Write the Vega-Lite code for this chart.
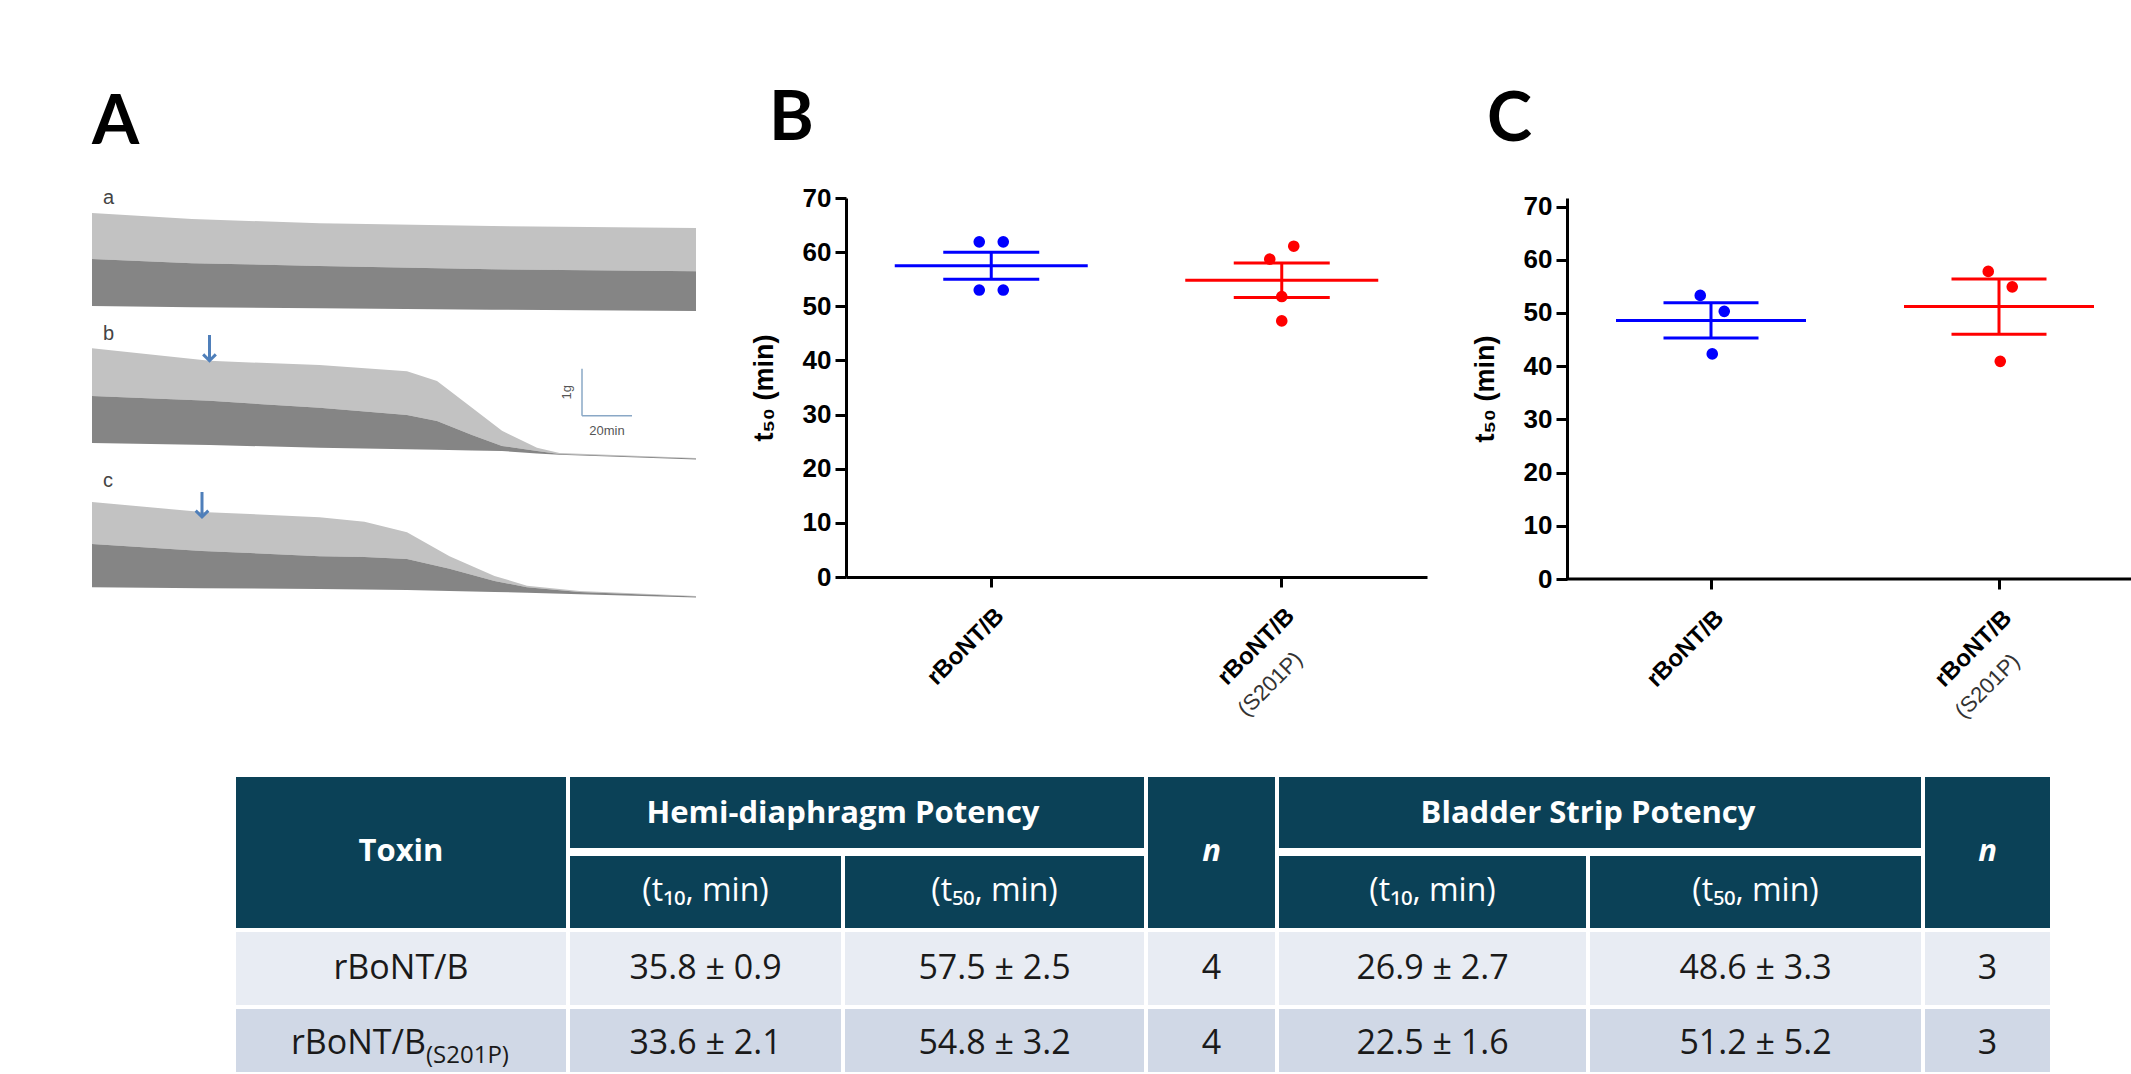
{
  "$schema": "https://vega.github.io/schema/vega-lite/v6.json",
  "background": "white",
  "padding": {"left": 92, "top": 86, "right": 0, "bottom": 0},
  "config": {"view": {"stroke": null}, "font": "Liberation Sans"},
  "datasets": {
    "traces": [
      {"tr": "a", "t": 0, "top": 2.13, "mid": 1.15, "base": 0.15},
      {"tr": "a", "t": 40, "top": 2.0, "mid": 1.06, "base": 0.12},
      {"tr": "a", "t": 91, "top": 1.91, "mid": 1.0, "base": 0.1},
      {"tr": "a", "t": 160, "top": 1.85, "mid": 0.93, "base": 0.07},
      {"tr": "a", "t": 241.6, "top": 1.81, "mid": 0.89, "base": 0.04},
      {"tr": "b", "t": 0, "top": 2.38, "mid": 1.36, "base": 0.36},
      {"tr": "b", "t": 47, "top": 2.11, "mid": 1.26, "base": 0.32},
      {"tr": "b", "t": 91, "top": 2.02, "mid": 1.11, "base": 0.26},
      {"tr": "b", "t": 126, "top": 1.89, "mid": 0.96, "base": 0.23},
      {"tr": "b", "t": 138, "top": 1.68, "mid": 0.83, "base": 0.22},
      {"tr": "b", "t": 152, "top": 1.11, "mid": 0.53, "base": 0.2},
      {"tr": "b", "t": 164, "top": 0.62, "mid": 0.3, "base": 0.19},
      {"tr": "b", "t": 178, "top": 0.26, "mid": 0.19, "base": 0.14},
      {"tr": "b", "t": 187, "top": 0.15, "mid": 0.13, "base": 0.11},
      {"tr": "b", "t": 241.6, "top": 0.04, "mid": 0.03, "base": 0.01},
      {"tr": "c", "t": 0, "top": 2.04, "mid": 1.15, "base": 0.23},
      {"tr": "c", "t": 44, "top": 1.83, "mid": 1.0, "base": 0.21},
      {"tr": "c", "t": 91, "top": 1.72, "mid": 0.89, "base": 0.19},
      {"tr": "c", "t": 109, "top": 1.62, "mid": 0.87, "base": 0.18},
      {"tr": "c", "t": 126, "top": 1.4, "mid": 0.83, "base": 0.17},
      {"tr": "c", "t": 143, "top": 0.89, "mid": 0.62, "base": 0.15},
      {"tr": "c", "t": 161, "top": 0.47, "mid": 0.36, "base": 0.13},
      {"tr": "c", "t": 174, "top": 0.26, "mid": 0.23, "base": 0.11},
      {"tr": "c", "t": 195, "top": 0.15, "mid": 0.13, "base": 0.08},
      {"tr": "c", "t": 241.6, "top": 0.04, "mid": 0.03, "base": 0.01}
    ],
    "arrows": [
      {"tr": "b", "t": 47, "tip": 2.13, "tail": 2.66},
      {"tr": "c", "t": 44, "tip": 1.74, "tail": 2.255}
    ],
    "sbar": [
      {"t": 196, "t2": 196, "g": 0.94, "g2": 1.94},
      {"t": 196, "t2": 216, "g": 0.94, "g2": 0.94}
    ],
    "sbarText": [
      {"t": 190, "g": 1.44, "s": "1g", "rot": "y"},
      {"t": 206, "g": 0.62, "s": "20min", "rot": "n"}
    ],
    "hemi": [
      {"grp": "wt", "slot": "L", "v": 61.9},
      {"grp": "wt", "slot": "R", "v": 61.9},
      {"grp": "wt", "slot": "L", "v": 53.0},
      {"grp": "wt", "slot": "R", "v": 53.0},
      {"grp": "mut", "slot": "L", "v": 58.7},
      {"grp": "mut", "slot": "R", "v": 61.1},
      {"grp": "mut", "slot": "C", "v": 51.8},
      {"grp": "mut", "slot": "C", "v": 47.3}
    ],
    "hemiSum": [
      {"grp": "wt", "mean": 57.5, "lo": 55.0, "hi": 60.0},
      {"grp": "mut", "mean": 54.8, "lo": 51.6, "hi": 58.0}
    ],
    "blad": [
      {"grp": "wt", "slot": "L", "v": 53.3},
      {"grp": "wt", "slot": "R", "v": 50.3},
      {"grp": "wt", "slot": "C", "v": 42.3},
      {"grp": "mut", "slot": "L", "v": 57.8},
      {"grp": "mut", "slot": "R", "v": 54.9},
      {"grp": "mut", "slot": "C", "v": 40.9}
    ],
    "bladSum": [
      {"grp": "wt", "mean": 48.6, "lo": 45.3, "hi": 51.9},
      {"grp": "mut", "mean": 51.2, "lo": 46.0, "hi": 56.4}
    ],
    "cells": [
      {"c0": 0, "c1": 1, "r0": 0, "r1": 2, "k": "h"},
      {"c0": 1, "c1": 3, "r0": 0, "r1": 1, "k": "h"},
      {"c0": 3, "c1": 4, "r0": 0, "r1": 2, "k": "h"},
      {"c0": 4, "c1": 6, "r0": 0, "r1": 1, "k": "h"},
      {"c0": 6, "c1": 7, "r0": 0, "r1": 2, "k": "h"},
      {"c0": 1, "c1": 2, "r0": 1, "r1": 2, "k": "h"},
      {"c0": 2, "c1": 3, "r0": 1, "r1": 2, "k": "h"},
      {"c0": 4, "c1": 5, "r0": 1, "r1": 2, "k": "h"},
      {"c0": 5, "c1": 6, "r0": 1, "r1": 2, "k": "h"},
      {"c0": 0, "c1": 1, "r0": 2, "r1": 3, "k": "r1"},
      {"c0": 1, "c1": 2, "r0": 2, "r1": 3, "k": "r1"},
      {"c0": 2, "c1": 3, "r0": 2, "r1": 3, "k": "r1"},
      {"c0": 3, "c1": 4, "r0": 2, "r1": 3, "k": "r1"},
      {"c0": 4, "c1": 5, "r0": 2, "r1": 3, "k": "r1"},
      {"c0": 5, "c1": 6, "r0": 2, "r1": 3, "k": "r1"},
      {"c0": 6, "c1": 7, "r0": 2, "r1": 3, "k": "r1"},
      {"c0": 0, "c1": 1, "r0": 3, "r1": 4, "k": "r2"},
      {"c0": 1, "c1": 2, "r0": 3, "r1": 4, "k": "r2"},
      {"c0": 2, "c1": 3, "r0": 3, "r1": 4, "k": "r2"},
      {"c0": 3, "c1": 4, "r0": 3, "r1": 4, "k": "r2"},
      {"c0": 4, "c1": 5, "r0": 3, "r1": 4, "k": "r2"},
      {"c0": 5, "c1": 6, "r0": 3, "r1": 4, "k": "r2"},
      {"c0": 6, "c1": 7, "r0": 3, "r1": 4, "k": "r2"}
    ],
    "hsep": [
      {"c0": 1, "c1": 3, "r": 1},
      {"c0": 4, "c1": 6, "r": 1}
    ],
    "texts": [
      {"ty": "hb", "cx": 0.5, "cy": 1, "s": "Toxin"},
      {"ty": "hb", "cx": 2, "cy": 0.5, "s": "Hemi-diaphragm Potency"},
      {"ty": "hb", "cx": 5, "cy": 0.5, "s": "Bladder Strip Potency"},
      {"ty": "hi", "cx": 3.5, "cy": 1, "s": "n"},
      {"ty": "hi", "cx": 6.5, "cy": 1, "s": "n"},
      {"ty": "hs", "cx": 1.5, "cy": 1.5, "s": "(t₁₀, min)"},
      {"ty": "hs", "cx": 2.5, "cy": 1.5, "s": "(t₅₀, min)"},
      {"ty": "hs", "cx": 4.5, "cy": 1.5, "s": "(t₁₀, min)"},
      {"ty": "hs", "cx": 5.5, "cy": 1.5, "s": "(t₅₀, min)"},
      {"ty": "b", "cx": 0.5, "cy": 2.5, "s": "rBoNT/B"},
      {"ty": "b", "cx": 1.5, "cy": 2.5, "s": "35.8 ± 0.9"},
      {"ty": "b", "cx": 2.5, "cy": 2.5, "s": "57.5 ± 2.5"},
      {"ty": "b", "cx": 3.5, "cy": 2.5, "s": "4"},
      {"ty": "b", "cx": 4.5, "cy": 2.5, "s": "26.9 ± 2.7"},
      {"ty": "b", "cx": 5.5, "cy": 2.5, "s": "48.6 ± 3.3"},
      {"ty": "b", "cx": 6.5, "cy": 2.5, "s": "3"},
      {"ty": "bm", "cx": 0.5, "cy": 3.5, "s": "rBoNT/B"},
      {"ty": "bs", "cx": 0.5, "cy": 3.5, "s": "(S201P)"},
      {"ty": "b", "cx": 1.5, "cy": 3.5, "s": "33.6 ± 2.1"},
      {"ty": "b", "cx": 2.5, "cy": 3.5, "s": "54.8 ± 3.2"},
      {"ty": "b", "cx": 3.5, "cy": 3.5, "s": "4"},
      {"ty": "b", "cx": 4.5, "cy": 3.5, "s": "22.5 ± 1.6"},
      {"ty": "b", "cx": 5.5, "cy": 3.5, "s": "51.2 ± 5.2"},
      {"ty": "b", "cx": 6.5, "cy": 3.5, "s": "3"}
    ]
  },
  "spacing": 53,
  "vconcat": [
    {
      "spacing": 44,
      "hconcat": [
        {
          "title": {"text": "A", "anchor": "start", "font": "Lato", "fontSize": 68, "fontWeight": "bold", "color": "black", "offset": 30},
          "spacing": 10,
          "vconcat": [
            {
              "title": {"text": "a", "anchor": "start", "dx": 11, "fontSize": 20, "fontWeight": "normal", "color": "#444", "offset": -10},
              "width": 614, "height": 115,
              "data": {"name": "traces"},
              "transform": [{"filter": "datum.tr == 'a'"}],
              "layer": [
                {"mark": {"type": "area", "color": "#c2c2c2"},
                 "encoding": {
                   "x": {"field": "t", "type": "quantitative", "scale": {"domain": [0, 245.6], "nice": false}, "axis": null},
                   "y": {"field": "top", "type": "quantitative", "scale": {"domain": [0, 2.447], "nice": false}, "axis": null},
                   "y2": {"field": "mid"}}},
                {"mark": {"type": "area", "color": "#858585"},
                 "encoding": {
                   "x": {"field": "t", "type": "quantitative"},
                   "y": {"field": "mid", "type": "quantitative"},
                   "y2": {"field": "base"}}}
              ]
            },
            {
              "title": {"text": "b", "anchor": "start", "dx": 11, "fontSize": 20, "fontWeight": "normal", "color": "#444", "offset": -10},
              "width": 614, "height": 125,
              "layer": [
                {"data": {"name": "traces"}, "transform": [{"filter": "datum.tr == 'b'"}],
                 "mark": {"type": "area", "color": "#c2c2c2"},
                 "encoding": {
                   "x": {"field": "t", "type": "quantitative", "scale": {"domain": [0, 245.6], "nice": false}, "axis": null},
                   "y": {"field": "top", "type": "quantitative", "scale": {"domain": [0, 2.66], "nice": false}, "axis": null},
                   "y2": {"field": "mid"}}},
                {"data": {"name": "traces"}, "transform": [{"filter": "datum.tr == 'b'"}],
                 "mark": {"type": "area", "color": "#858585"},
                 "encoding": {
                   "x": {"field": "t", "type": "quantitative"},
                   "y": {"field": "mid", "type": "quantitative"},
                   "y2": {"field": "base"}}},
                {"data": {"name": "arrows"}, "transform": [{"filter": "datum.tr == 'b'"}],
                 "mark": {"type": "rule", "color": "#4f7fba", "strokeWidth": 3},
                 "encoding": {"x": {"field": "t", "type": "quantitative"}, "y": {"field": "tail", "type": "quantitative"}, "y2": {"field": "tip"}}},
                {"data": {"name": "arrows"}, "transform": [{"filter": "datum.tr == 'b'"}],
                 "mark": {"type": "point", "shape": "M -0.8 -0.7 L 0 0.1 L 0.8 -0.7", "filled": false, "color": "#4f7fba", "strokeWidth": 3, "size": 250, "opacity": 1},
                 "encoding": {"x": {"field": "t", "type": "quantitative"}, "y": {"field": "tip", "type": "quantitative"}}},
                {"data": {"name": "sbar"},
                 "mark": {"type": "rule", "color": "#8aa8c6", "strokeWidth": 1.5},
                 "encoding": {"x": {"field": "t", "type": "quantitative"}, "x2": {"field": "t2"}, "y": {"field": "g", "type": "quantitative"}, "y2": {"field": "g2"}}},
                {"data": {"name": "sbarText"}, "transform": [{"filter": "datum.rot == 'y'"}],
                 "mark": {"type": "text", "angle": 270, "fontSize": 13, "color": "#555"},
                 "encoding": {"x": {"field": "t", "type": "quantitative"}, "y": {"field": "g", "type": "quantitative"}, "text": {"field": "s"}}},
                {"data": {"name": "sbarText"}, "transform": [{"filter": "datum.rot == 'n'"}],
                 "mark": {"type": "text", "fontSize": 13, "color": "#555"},
                 "encoding": {"x": {"field": "t", "type": "quantitative"}, "y": {"field": "g", "type": "quantitative"}, "text": {"field": "s"}}}
              ]
            },
            {
              "title": {"text": "c", "anchor": "start", "dx": 11, "fontSize": 20, "fontWeight": "normal", "color": "#444", "offset": 0},
              "width": 614, "height": 106,
              "layer": [
                {"data": {"name": "traces"}, "transform": [{"filter": "datum.tr == 'c'"}],
                 "mark": {"type": "area", "color": "#c2c2c2"},
                 "encoding": {
                   "x": {"field": "t", "type": "quantitative", "scale": {"domain": [0, 245.6], "nice": false}, "axis": null},
                   "y": {"field": "top", "type": "quantitative", "scale": {"domain": [0, 2.255], "nice": false}, "axis": null},
                   "y2": {"field": "mid"}}},
                {"data": {"name": "traces"}, "transform": [{"filter": "datum.tr == 'c'"}],
                 "mark": {"type": "area", "color": "#858585"},
                 "encoding": {
                   "x": {"field": "t", "type": "quantitative"},
                   "y": {"field": "mid", "type": "quantitative"},
                   "y2": {"field": "base"}}},
                {"data": {"name": "arrows"}, "transform": [{"filter": "datum.tr == 'c'"}],
                 "mark": {"type": "rule", "color": "#4f7fba", "strokeWidth": 3},
                 "encoding": {"x": {"field": "t", "type": "quantitative"}, "y": {"field": "tail", "type": "quantitative"}, "y2": {"field": "tip"}}},
                {"data": {"name": "arrows"}, "transform": [{"filter": "datum.tr == 'c'"}],
                 "mark": {"type": "point", "shape": "M -0.8 -0.7 L 0 0.1 L 0.8 -0.7", "filled": false, "color": "#4f7fba", "strokeWidth": 3, "size": 250, "opacity": 1},
                 "encoding": {"x": {"field": "t", "type": "quantitative"}, "y": {"field": "tip", "type": "quantitative"}}}
              ]
            }
          ]
        },
        {
          "title": {"text": "B", "anchor": "start", "frame": "group", "dx": -77, "font": "Lato", "fontSize": 68, "fontWeight": "bold", "color": "black", "offset": 31},
          "width": 581, "height": 379,
          "resolve": {"axis": {"x": "independent"}},
          "layer": [
            {"data": {"name": "hemiSum"},
             "mark": {"type": "rule", "strokeWidth": 3},
             "encoding": {
               "x": {"field": "grp", "type": "nominal", "sort": null, "scale": {"type": "band", "domain": ["wt", "mut"], "paddingInner": 0, "paddingOuter": 0},
                     "axis": {"title": null, "orient": "bottom", "labelExpr": "'rBoNT/B'", "labelAngle": -45, "labelAlign": "right", "labelBaseline": "middle", "labelFontSize": 24, "labelFontWeight": "bold", "labelColor": "black", "labelPadding": 25, "labelOffset": 9, "domainColor": "black", "domainWidth": 3, "tickColor": "black", "tickWidth": 3, "tickSize": 10, "grid": false}},
               "y": {"field": "lo", "type": "quantitative", "scale": {"domain": [0, 70], "nice": false},
                     "axis": {"title": "t₅₀ (min)", "values": [0, 10, 20, 30, 40, 50, 60, 70], "labelFontSize": 26, "labelFontWeight": "bold", "labelColor": "black", "labelPadding": 4, "titleFontSize": 27, "titleFontWeight": "bold", "titleColor": "black", "titlePadding": 24, "domainColor": "black", "domainWidth": 3, "tickColor": "black", "tickWidth": 3, "tickSize": 11, "grid": false}},
               "y2": {"field": "hi"},
               "color": {"field": "grp", "type": "nominal", "scale": {"domain": ["wt", "mut"], "range": ["#0000ff", "#ff0000"]}, "legend": null}}},
            {"data": {"name": "hemiSum"},
             "mark": {"type": "tick", "size": 193, "thickness": 3, "opacity": 1},
             "encoding": {
               "x": {"field": "grp", "type": "nominal", "sort": null,
                     "axis": {"title": null, "orient": "bottom", "domain": false, "ticks": false, "tickSize": 0, "grid": false, "labelExpr": "datum.value == 'mut' ? '(S201P)' : ''", "labelAngle": -45, "labelAlign": "right", "labelBaseline": "middle", "labelFontSize": 22, "labelFontWeight": "normal", "labelColor": "#333", "labelPadding": 78, "labelOffset": 17}},
               "y": {"field": "mean", "type": "quantitative"},
               "color": {"field": "grp", "type": "nominal", "legend": null}}},
            {"data": {"name": "hemiSum"},
             "mark": {"type": "tick", "size": 96, "thickness": 3, "opacity": 1},
             "encoding": {
               "x": {"field": "grp", "type": "nominal", "sort": null, "axis": null},
               "y": {"field": "lo", "type": "quantitative"},
               "color": {"field": "grp", "type": "nominal", "legend": null}}},
            {"data": {"name": "hemiSum"},
             "mark": {"type": "tick", "size": 96, "thickness": 3, "opacity": 1},
             "encoding": {
               "x": {"field": "grp", "type": "nominal", "sort": null, "axis": null},
               "y": {"field": "hi", "type": "quantitative"},
               "color": {"field": "grp", "type": "nominal", "legend": null}}},
            {"data": {"name": "hemi"},
             "mark": {"type": "circle", "size": 135, "opacity": 1},
             "encoding": {
               "x": {"field": "grp", "type": "nominal", "sort": null, "axis": null},
               "xOffset": {"field": "slot", "type": "nominal", "scale": {"type": "point", "domain": ["L", "C", "R"], "range": [133.25, 157.25], "padding": 0}},
               "y": {"field": "v", "type": "quantitative"},
               "color": {"field": "grp", "type": "nominal", "legend": null}}}
          ]
        },
        {
          "title": {"text": "C", "anchor": "start", "frame": "group", "dx": -80, "font": "Lato", "fontSize": 68, "fontWeight": "bold", "color": "black", "offset": 39},
          "width": 566, "height": 381,
          "resolve": {"axis": {"x": "independent"}},
          "layer": [
            {"data": {"name": "bladSum"},
             "mark": {"type": "rule", "strokeWidth": 3},
             "encoding": {
               "x": {"field": "grp", "type": "nominal", "sort": null, "scale": {"type": "band", "domain": ["wt", "mut"], "paddingInner": 0, "paddingOuter": 0, "range": [0, 576]},
                     "axis": {"title": null, "orient": "bottom", "labelExpr": "'rBoNT/B'", "labelAngle": -45, "labelAlign": "right", "labelBaseline": "middle", "labelFontSize": 24, "labelFontWeight": "bold", "labelColor": "black", "labelPadding": 25, "labelOffset": 9, "domain": false, "tickColor": "black", "tickWidth": 3, "tickSize": 10, "grid": false}},
               "y": {"field": "lo", "type": "quantitative", "scale": {"domain": [0, 71.6], "nice": false},
                     "axis": {"title": "t₅₀ (min)", "values": [0, 10, 20, 30, 40, 50, 60, 70], "labelFontSize": 26, "labelFontWeight": "bold", "labelColor": "black", "labelPadding": 4, "titleFontSize": 27, "titleFontWeight": "bold", "titleColor": "black", "titlePadding": 24, "domainColor": "black", "domainWidth": 3, "tickColor": "black", "tickWidth": 3, "tickSize": 11, "grid": false}},
               "y2": {"field": "hi"},
               "color": {"field": "grp", "type": "nominal", "scale": {"domain": ["wt", "mut"], "range": ["#0000ff", "#ff0000"]}, "legend": null}}},
            {"data": {"name": "bladSum"},
             "mark": {"type": "tick", "size": 190, "thickness": 3, "opacity": 1},
             "encoding": {
               "x": {"field": "grp", "type": "nominal", "sort": null,
                     "axis": {"title": null, "orient": "bottom", "domain": false, "ticks": false, "tickSize": 0, "grid": false, "labelExpr": "datum.value == 'mut' ? '(S201P)' : ''", "labelAngle": -45, "labelAlign": "right", "labelBaseline": "middle", "labelFontSize": 22, "labelFontWeight": "normal", "labelColor": "#333", "labelPadding": 78, "labelOffset": 17}},
               "y": {"field": "mean", "type": "quantitative"},
               "color": {"field": "grp", "type": "nominal", "legend": null}}},
            {"data": {"name": "bladSum"},
             "mark": {"type": "tick", "size": 95, "thickness": 3, "opacity": 1},
             "encoding": {
               "x": {"field": "grp", "type": "nominal", "sort": null, "axis": null},
               "y": {"field": "lo", "type": "quantitative"},
               "color": {"field": "grp", "type": "nominal", "legend": null}}},
            {"data": {"name": "bladSum"},
             "mark": {"type": "tick", "size": 95, "thickness": 3, "opacity": 1},
             "encoding": {
               "x": {"field": "grp", "type": "nominal", "sort": null, "axis": null},
               "y": {"field": "hi", "type": "quantitative"},
               "color": {"field": "grp", "type": "nominal", "legend": null}}},
            {"data": {"name": "blad"},
             "mark": {"type": "circle", "size": 135, "opacity": 1},
             "encoding": {
               "x": {"field": "grp", "type": "nominal", "sort": null, "axis": null},
               "xOffset": {"field": "slot", "type": "nominal", "scale": {"type": "point", "domain": ["L", "C", "R"], "range": [132, 156], "padding": 0}},
               "y": {"field": "v", "type": "quantitative"},
               "color": {"field": "grp", "type": "nominal", "legend": null}}},
            {"data": {"values": [{"z": 0}]},
             "mark": {"type": "rule", "color": "black", "strokeWidth": 3},
             "encoding": {"y": {"field": "z", "type": "quantitative"}}}
          ]
        }
      ]
    },
    {
      "width": 1960, "height": 297,
      "layer": [
        {"data": {"name": "cells"},
         "mark": {"type": "rect", "stroke": "white", "strokeWidth": 4, "clip": true},
         "encoding": {
           "x": {"field": "c0", "type": "quantitative", "scale": {"domain": [0, 1, 2, 3, 4, 5, 6, 7], "range": [142, 476, 751, 1054, 1185, 1496, 1831, 1960], "nice": false, "zero": false}, "axis": null},
           "x2": {"field": "c1"},
           "y": {"field": "r0", "type": "quantitative", "scale": {"domain": [0, 1, 2, 3, 4], "range": [0, 77, 155, 232, 306], "nice": false}, "axis": null},
           "y2": {"field": "r1"},
           "fill": {"field": "k", "type": "nominal", "scale": {"domain": ["h", "r1", "r2"], "range": ["#0b4157", "#e8ecf3", "#d0d8e6"]}, "legend": null}}},
        {"data": {"name": "hsep"},
         "mark": {"type": "rule", "color": "white", "strokeWidth": 8},
         "encoding": {"x": {"field": "c0", "type": "quantitative"}, "x2": {"field": "c1"}, "y": {"field": "r", "type": "quantitative"}}},
        {"data": {"name": "texts"}, "transform": [{"filter": "datum.ty == 'hb'"}],
         "mark": {"type": "text", "font": "Open Sans", "fontSize": 31, "fontWeight": "bold", "color": "white"},
         "encoding": {"x": {"field": "cx", "type": "quantitative"}, "y": {"field": "cy", "type": "quantitative"}, "text": {"field": "s"}}},
        {"data": {"name": "texts"}, "transform": [{"filter": "datum.ty == 'hi'"}],
         "mark": {"type": "text", "font": "Open Sans", "fontSize": 31, "fontWeight": "bold", "fontStyle": "italic", "color": "white"},
         "encoding": {"x": {"field": "cx", "type": "quantitative"}, "y": {"field": "cy", "type": "quantitative"}, "text": {"field": "s"}}},
        {"data": {"name": "texts"}, "transform": [{"filter": "datum.ty == 'hs'"}],
         "mark": {"type": "text", "font": "Open Sans", "fontSize": 32, "color": "white"},
         "encoding": {"x": {"field": "cx", "type": "quantitative"}, "y": {"field": "cy", "type": "quantitative"}, "text": {"field": "s"}}},
        {"data": {"name": "texts"}, "transform": [{"filter": "datum.ty == 'b'"}],
         "mark": {"type": "text", "font": "Open Sans", "fontSize": 34, "color": "#1a1a1a"},
         "encoding": {"x": {"field": "cx", "type": "quantitative"}, "y": {"field": "cy", "type": "quantitative"}, "text": {"field": "s"}}},
        {"data": {"name": "texts"}, "transform": [{"filter": "datum.ty == 'bm'"}],
         "mark": {"type": "text", "font": "Open Sans", "fontSize": 34, "color": "#1a1a1a", "align": "right", "dx": 25},
         "encoding": {"x": {"field": "cx", "type": "quantitative"}, "y": {"field": "cy", "type": "quantitative"}, "text": {"field": "s"}}},
        {"data": {"name": "texts"}, "transform": [{"filter": "datum.ty == 'bs'"}],
         "mark": {"type": "text", "font": "Open Sans", "fontSize": 24, "color": "#1a1a1a", "align": "left", "dx": 25, "dy": 12},
         "encoding": {"x": {"field": "cx", "type": "quantitative"}, "y": {"field": "cy", "type": "quantitative"}, "text": {"field": "s"}}}
      ]
    }
  ]
}
